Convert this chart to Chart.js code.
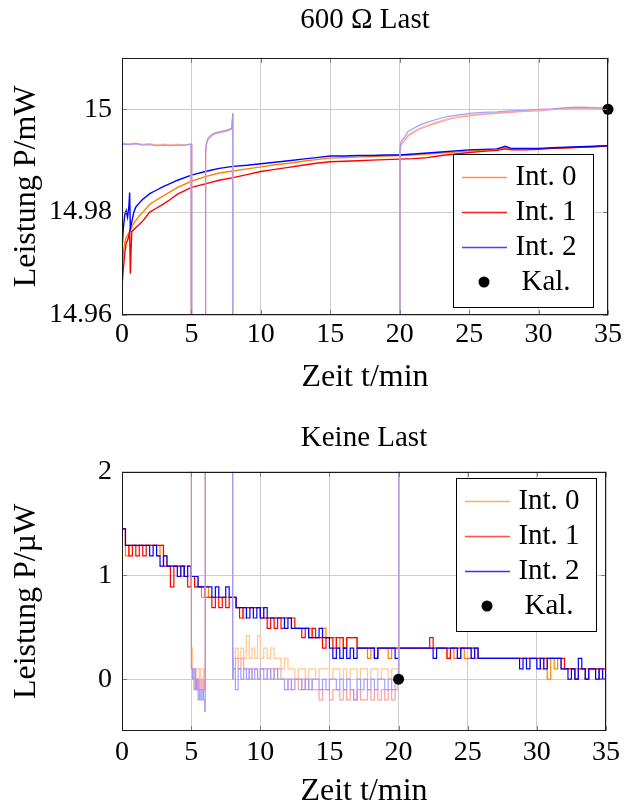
<!DOCTYPE html>
<html>
<head>
<meta charset="utf-8">
<script src="https://cdn.jsdelivr.net/npm/chart.js@4.4.0/dist/chart.umd.min.js"></script>
<style>
  html, body { margin: 0; padding: 0; background: #fff; }
  #topChart { position: absolute; left: 0; top: 0; }
  #lowChart { position: absolute; left: 0; top: 400px; }
</style>
</head>
<body>
<canvas id="topChart" width="625" height="400"></canvas>
<canvas id="lowChart" width="625" height="407"></canvas>
<script>
// tick labels
const xTicks = [0, 5, 10, 15, 20, 25, 30, 35];
const topYTicks = [14.96, 14.98, 15];
const topYLabels = ['14.96', '14.98', '15'];
const lowYTicks = [0, 1, 2];
const lowYLabels = ['0', '1', '2'];
const seriesNames = ['Int. 0', 'Int. 1', 'Int. 2'];
const calName = 'Kal.';

// 600 Ohm load, mW
const topTime = [0, 0.1, 0.2, 0.3, 0.4, 0.5, 0.55, 0.6, 0.7, 0.85,
    1, 1.25, 1.5, 2, 2.5, 3, 3.5, 4,
    5, 6, 7, 8, 9, 10, 11, 12, 13, 14, 15, 16, 17, 18, 19, 20, 21, 22, 23, 24, 25, 26, 27,
    27.6, 28, 29, 30, 31, 32, 33, 34, 35];
const top0 = [14.9690, 14.9722, 14.9740, 14.9751, 14.9755, 14.9760, 14.9762, 14.9764, 14.9770, 14.9778,
    14.9784, 14.9793, 14.9800, 14.9815, 14.9824, 14.9832, 14.9840, 14.9848,
    14.9860, 14.9869, 14.9876, 14.9880, 14.9884, 14.9888, 14.9892, 14.9895, 14.9899, 14.9902, 14.9905,
    14.9906, 14.9907, 14.9908, 14.9909, 14.9910, 14.9911, 14.9913, 14.9915, 14.9917, 14.9919, 14.9920, 14.9921,
    14.9925, 14.9922, 14.9923, 14.9923, 14.9924, 14.9925, 14.9926, 14.9927, 14.9929];
const top1 = [14.9655, 14.9690, 14.9720, 14.9740, 14.9745, 14.9755, 14.9762, 14.9680, 14.9762, 14.9766,
    14.9770, 14.9776, 14.9783, 14.9800, 14.9808, 14.9816, 14.9825, 14.9835,
    14.9848, 14.9855, 14.9862, 14.9867, 14.9873, 14.9879, 14.9883, 14.9887, 14.9891, 14.9895, 14.9898,
    14.9899, 14.9900, 14.9901, 14.9902, 14.9903, 14.9904, 14.9906, 14.9910, 14.9913, 14.9916, 14.9918, 14.9920,
    14.9923, 14.9921, 14.9921, 14.9922, 14.9924, 14.9925, 14.9926, 14.9927, 14.9929];
const top2 = [14.9725, 14.9770, 14.9795, 14.9803, 14.9790, 14.9812, 14.9838, 14.9768, 14.9780, 14.9800,
    14.9810, 14.9818, 14.9825, 14.9836, 14.9843, 14.9850, 14.9856, 14.9862,
    14.9872, 14.9879, 14.9885, 14.9889, 14.9891, 14.9894, 14.9897, 14.9900, 14.9903, 14.9906, 14.9909,
    14.9909, 14.9910, 14.9910, 14.9911, 14.9911, 14.9913, 14.9915, 14.9917, 14.9919, 14.9921, 14.9922, 14.9923,
    14.9928, 14.9924, 14.9924, 14.9924, 14.9925, 14.9926, 14.9927, 14.9928, 14.9929];

// switched channel (pale), mW
const topPaleTime = [0, 0.5, 1, 1.5, 2, 2.5, 3, 3.5, 4, 4.5, 4.98,
    5.02, 5.98,
    6.02, 6.08, 6.2, 6.4, 6.7, 7, 7.3, 7.6, 7.9, 7.98,
    8.02, 19.98,
    20.02, 20.1, 20.3, 20.6, 21, 21.5, 22, 22.5, 23, 23.5, 24,
    25, 26, 27, 28, 29, 30, 31, 32, 33, 34, 35];
const topPale0 = [14.9934, 14.9933, 14.9934, 14.9932, 14.9933, 14.9931, 14.9932, 14.9931, 14.9932, 14.9931, 14.9933,
    0.0001, 0.0001,
    14.9912, 14.9933, 14.9942, 14.9948, 14.9953, 14.9955, 14.9957, 14.9959, 14.9962, 14.9993,
    0.0001, 0.0001,
    14.9920, 14.9933, 14.9939, 14.9950, 14.9957, 14.9964, 14.9969, 14.9974, 14.9978, 14.9982, 14.9985,
    14.9989, 14.9991, 14.9993, 14.9995, 14.9997, 14.9998, 15.0000, 15.0002, 15.0003, 15.0002, 15.0001];
const topPale1 = [14.9933, 14.9932, 14.9933, 14.9931, 14.9932, 14.9930, 14.9931, 14.9930, 14.9931, 14.9930, 14.9932,
    0.0000, 0.0000,
    14.9911, 14.9932, 14.9941, 14.9947, 14.9952, 14.9954, 14.9956, 14.9958, 14.9961, 14.9991,
    0.0001, 0.0001,
    14.9918, 14.9931, 14.9937, 14.9948, 14.9955, 14.9962, 14.9967, 14.9972, 14.9976, 14.9980, 14.9983,
    14.9987, 14.9990, 14.9992, 14.9994, 14.9996, 14.9997, 14.9999, 15.0001, 15.0002, 15.0001, 15.0000];
const topPale2 = [14.9932, 14.9931, 14.9933, 14.9930, 14.9931, 14.9929, 14.9930, 14.9929, 14.9930, 14.9930, 14.9932,
    0.0001, 0.0001,
    14.9915, 14.9935, 14.9944, 14.9950, 14.9954, 14.9956, 14.9958, 14.9960, 14.9963, 14.9992,
    0.0001, 0.0001,
    14.9925, 14.9938, 14.9943, 14.9957, 14.9963, 14.9970, 14.9975, 14.9979, 14.9983, 14.9986, 14.9988,
    14.9992, 14.9994, 14.9995, 14.9997, 14.9998, 15.0000, 15.0001, 15.0003, 15.0004, 15.0003, 15.0002];
const topCalTime = [35];
const topCalValue = [15.0];

// no load, uW
const lowTime = [
    0, 0.25, 0.5, 0.75, 1, 1.25, 1.5, 1.75, 2, 2.25, 2.5, 2.75, 3, 3.25, 3.5, 3.75, 4, 4.25, 4.5, 4.75,
    5, 5.25, 5.5, 5.75, 6, 6.25, 6.5, 6.75, 7, 7.25, 7.5, 7.75, 8, 8.25, 8.5, 8.75, 9, 9.25, 9.5, 9.75,
    10, 10.25, 10.5, 10.75, 11, 11.25, 11.5, 11.75, 12, 12.25, 12.5, 12.75, 13, 13.25, 13.5, 13.75, 14, 14.25, 14.5, 14.75,
    15, 15.25, 15.5, 15.75, 16, 16.25, 16.5, 16.75, 17, 17.25, 17.5, 17.75, 18, 18.25, 18.5, 18.75, 19, 19.25, 19.5, 19.75,
    20, 20.25, 20.5, 20.75, 21, 21.25, 21.5, 21.75, 22, 22.25, 22.5, 22.75, 23, 23.25, 23.5, 23.75, 24, 24.25, 24.5, 24.75,
    25, 25.25, 25.5, 25.75, 26, 26.25, 26.5, 26.75, 27, 27.25, 27.5, 27.75, 28, 28.25, 28.5, 28.75, 29, 29.25, 29.5, 29.75,
    30, 30.25, 30.5, 30.75, 31, 31.25, 31.5, 31.75, 32, 32.25, 32.5, 32.75, 33, 33.25, 33.5, 33.75, 34, 34.25, 34.5, 34.75,
    35];
const low0 = [
    1.45, 1.19, 1.29, 1.29, 1.29, 1.29, 1.29, 1.29, 1.29, 1.29, 1.19, 1.29, 1.19, 1.09, 1.09, 1.09, 1.09, 0.99, 1.09, 1.09,
    0.99, 0.99, 0.89, 0.79, 0.89, 0.79, 0.79, 0.79, 0.79, 0.79, 0.79, 0.79, 0.79, 0.69, 0.69, 0.59, 0.69, 0.69, 0.69, 0.69,
    0.69, 0.59, 0.59, 0.59, 0.59, 0.59, 0.59, 0.59, 0.59, 0.49, 0.49, 0.49, 0.49, 0.49, 0.49, 0.4, 0.4, 0.4, 0.49, 0.4,
    0.4, 0.4, 0.3, 0.4, 0.3, 0.4, 0.4, 0.4, 0.3, 0.3, 0.3, 0.2, 0.3, 0.3, 0.3, 0.3, 0.3, 0.2, 0.3, 0.3,
    0.3, 0.3, 0.3, 0.3, 0.3, 0.3, 0.3, 0.3, 0.3, 0.3, 0.3, 0.3, 0.3, 0.3, 0.2, 0.3, 0.2, 0.2, 0.3, 0.2,
    0.2, 0.3, 0.2, 0.2, 0.2, 0.2, 0.2, 0.2, 0.2, 0.2, 0.2, 0.2, 0.2, 0.2, 0.2, 0.2, 0.2, 0.2, 0.2, 0.2,
    0.2, 0.1, 0.2, 0.0, 0.2, 0.1, 0.2, 0.1, 0.1, 0.1, 0.1, 0.1, 0.1, 0.1, 0.1, 0.1, 0.1, 0.1, 0.1, 0.1,
    0.1];
const low1 = [
    1.45, 1.29, 1.19, 1.29, 1.19, 1.29, 1.19, 1.29, 1.29, 1.29, 1.29, 1.29, 1.09, 1.09, 0.89, 1.09, 1.09, 1.09, 0.99, 0.89,
    0.99, 0.89, 0.89, 0.89, 0.79, 0.79, 0.69, 0.79, 0.69, 0.79, 0.69, 0.79, 0.79, 0.69, 0.59, 0.69, 0.69, 0.69, 0.69, 0.69,
    0.59, 0.59, 0.49, 0.59, 0.49, 0.59, 0.49, 0.59, 0.59, 0.59, 0.49, 0.49, 0.4, 0.49, 0.4, 0.49, 0.4, 0.4, 0.3, 0.4,
    0.4, 0.3, 0.4, 0.4, 0.3, 0.4, 0.4, 0.4, 0.3, 0.3, 0.3, 0.3, 0.3, 0.2, 0.3, 0.3, 0.3, 0.3, 0.3, 0.3,
    0.3, 0.3, 0.3, 0.3, 0.3, 0.3, 0.3, 0.3, 0.3, 0.4, 0.3, 0.3, 0.3, 0.3, 0.2, 0.3, 0.3, 0.3, 0.3, 0.3,
    0.3, 0.3, 0.3, 0.2, 0.2, 0.2, 0.2, 0.2, 0.2, 0.2, 0.2, 0.2, 0.2, 0.2, 0.2, 0.2, 0.2, 0.2, 0.2, 0.2,
    0.2, 0.2, 0.2, 0.2, 0.2, 0.2, 0.2, 0.2, 0.1, 0.1, 0.1, 0.0, 0.1, 0.1, 0.0, 0.1, 0.1, 0.1, 0.0, 0.1,
    0.1];
const low2 = [
    1.45, 1.29, 1.29, 1.29, 1.29, 1.29, 1.29, 1.29, 1.19, 1.29, 1.19, 1.09, 1.19, 1.09, 1.09, 1.09, 0.99, 1.09, 0.99, 1.09,
    0.99, 0.99, 0.89, 0.89, 0.89, 0.89, 0.79, 0.89, 0.79, 0.79, 0.89, 0.79, 0.79, 0.69, 0.69, 0.69, 0.59, 0.69, 0.59, 0.69,
    0.59, 0.69, 0.59, 0.59, 0.59, 0.59, 0.59, 0.49, 0.59, 0.49, 0.49, 0.49, 0.49, 0.49, 0.4, 0.4, 0.4, 0.49, 0.4, 0.4,
    0.3, 0.2, 0.3, 0.2, 0.3, 0.2, 0.3, 0.2, 0.3, 0.3, 0.3, 0.3, 0.3, 0.2, 0.3, 0.3, 0.3, 0.3, 0.3, 0.2,
    0.3, 0.3, 0.3, 0.3, 0.3, 0.3, 0.3, 0.3, 0.3, 0.3, 0.2, 0.3, 0.3, 0.3, 0.3, 0.3, 0.3, 0.2, 0.3, 0.3,
    0.3, 0.2, 0.3, 0.2, 0.2, 0.2, 0.2, 0.2, 0.2, 0.2, 0.2, 0.2, 0.2, 0.2, 0.2, 0.1, 0.2, 0.1, 0.2, 0.2,
    0.1, 0.2, 0.1, 0.2, 0.2, 0.2, 0.2, 0.1, 0.1, 0.0, 0.1, 0.0, 0.2, 0.1, 0.0, 0.1, 0.1, 0.0, 0.1, 0.0,
    0.1];

// switched channel (pale), uW
const lowPaleTime = [0, 4.98,
    5.02, 5.1, 5.2, 5.3, 5.4, 5.5, 5.6, 5.7, 5.8, 5.9, 5.98, 6.02,
    8, 8.05, 8.2, 8.4, 8.6, 8.8, 9, 9.2, 9.4, 9.6, 9.8,
    10, 10.25, 10.5, 10.75, 11, 11.25, 11.5, 11.75, 12, 12.25, 12.5, 12.75, 13, 13.25, 13.5, 13.75, 14, 14.25, 14.5, 14.75,
    15, 15.25, 15.5, 15.75, 16, 16.25, 16.5, 16.75, 17, 17.25, 17.5, 17.75, 18, 18.25, 18.5, 18.75, 19, 19.25, 19.5, 19.75,
    19.95, 20.02, 35];
const lowPale0 = [14993, 14993,
    0.3, 0.1, 0.1, 0.0, 0.1, 0.1, 0.0, 0.1, 0.1, 0.0, 0.1, 14994,
    0.3, 0.2, 0.3, 0.2, 0.3, 0.2, 0.42, 0.2, 0.3, 0.2, 0.42,
    0.2, 0.3, 0.2, 0.3, 0.2, 0.2, 0.1, 0.2, 0.1, 0.1, 0.0, 0.1, 0.1, 0.0, 0.1, 0.1, 0.0, 0.1, 0.1, 0.1,
    0.0, 0.1, 0.1, 0.0, 0.1, 0.0, 0.1, 0.1, 0.0, 0.1, 0.1, 0.0, 0.1, 0.1, 0.0, 0.1, 0.1, 0.0, 0.1, 0.1,
    0.0, 14992, 15000];
const lowPale1 = [14993, 14993,
    0.1, 0.0, -0.1, 0.0, -0.1, 0.0, -0.1, 0.0, -0.1, 0.0, -0.1, 14994,
    0.2, 0.1, 0.2, 0.1, 0.2, 0.1, 0.1, 0.0, 0.1, 0.1, 0.0,
    0.1, 0.1, 0.0, 0.1, 0.0, 0.1, 0.0, 0.0, -0.1, 0.0, 0.0, -0.1, 0.0, -0.1, 0.0, -0.1, -0.1, -0.2, -0.1, -0.1,
    -0.2, -0.1, -0.1, -0.2, -0.1, -0.2, -0.1, -0.2, -0.1, -0.2, -0.2, -0.1, -0.2, -0.1, -0.2, -0.1, -0.2, -0.1, -0.2, -0.1,
    0.0, 14992, 15000];
const lowPale2 = [14993, 14993,
    0.1, 0.0, 0.1, -0.1, 0.0, -0.2, -0.1, -0.2, -0.1, -0.2, -0.31, 14994,
    0.0, 0.1, -0.1, 0.1, 0.0, 0.1, 0.0, 0.1, 0.0, 0.1, 0.0,
    0.1, 0.0, 0.1, 0.0, 0.1, 0.0, 0.0, -0.1, 0.0, -0.1, 0.0, 0.0, -0.1, 0.0, -0.1, 0.0, 0.0, -0.1, 0.0, -0.1,
    0.0, 0.0, -0.1, 0.0, -0.1, 0.0, -0.1, -0.2, 0.0, -0.1, 0.0, -0.1, 0.0, -0.1, 0.0, 0.0, -0.1, 0.0, -0.1, 0.0,
    0.0, 14992, 15000];
const lowCalTime = [20];
const lowCalValue = [0.0];

const FONT = "'Liberation Serif', serif";
const darkColors = ['rgb(255,128,0)', 'rgb(255,0,0)', 'rgb(0,0,255)'];
const paleColors = ['rgb(255,200,150)', 'rgb(255,160,160)', 'rgba(150,150,255,0.9)'];

function pairs(xs, ys) {
    return xs.map(function(x, i) { return {x: x, y: ys[i]}; });
}

function line(label, xs, ys, color, width, stepped) {
    return {
        label: label,
        data: pairs(xs, ys),
        borderColor: color,
        backgroundColor: color,
        borderWidth: width,
        pointRadius: 0,
        tension: 0,
        fill: false,
        stepped: stepped
    };
}

function calPoint(xs, ys) {
    return {
        label: calName,
        data: pairs(xs, ys),
        showLine: false,
        pointRadius: 5.5,
        pointBackgroundColor: '#000',
        pointBorderColor: '#000',
        pointBorderWidth: 0,
        clip: false
    };
}

// frame, inner ticks and boxed legend like pgfplots
const framePlugin = {
    id: 'frame',
    afterDraw(chart, args, opts) {
        const ctx = chart.ctx;
        const a = chart.chartArea;
        const xs = chart.scales.x, ys = chart.scales.y;
        ctx.save();
        ctx.strokeStyle = '#808080';
        ctx.lineWidth = 1;
        ctx.beginPath();
        xs.ticks.forEach(function(t) {
            const px = Math.round(xs.getPixelForValue(t.value)) + 0.5;
            ctx.moveTo(px, a.bottom); ctx.lineTo(px, a.bottom - 5);
            ctx.moveTo(px, a.top); ctx.lineTo(px, a.top + 5);
        });
        ys.ticks.forEach(function(t) {
            const py = Math.round(ys.getPixelForValue(t.value)) + 0.5;
            ctx.moveTo(a.left, py); ctx.lineTo(a.left + 5, py);
            ctx.moveTo(a.right, py); ctx.lineTo(a.right - 5, py);
        });
        ctx.stroke();
        ctx.strokeStyle = '#1a1a1a';
        ctx.strokeRect(Math.round(a.left) + 0.5, Math.round(a.top) + 0.5,
            Math.round(a.right - a.left) - 1, Math.round(a.bottom - a.top) - 1);

        const box = opts.box;
        const bx = Math.round(a.right - box.right - box.width);
        const by = Math.round(box.top != null ? a.top + box.top : a.bottom - box.bottom - box.height);
        ctx.fillStyle = '#fff';
        ctx.fillRect(bx, by, box.width, box.height);
        ctx.strokeStyle = '#000';
        ctx.strokeRect(bx + 0.5, by + 0.5, box.width, box.height);
        ctx.font = '29px ' + FONT;
        ctx.textAlign = 'center';
        ctx.textBaseline = 'middle';
        opts.items.forEach(function(it, i) {
            const y = by + 23 + i * 35;
            if (it.dot) {
                ctx.fillStyle = '#000';
                ctx.beginPath();
                ctx.arc(bx + 31, y, 5.5, 0, Math.PI * 2);
                ctx.fill();
            } else {
                ctx.strokeStyle = it.color;
                ctx.lineWidth = 1.4;
                ctx.beginPath();
                ctx.moveTo(bx + 9, y + 0.5);
                ctx.lineTo(bx + 54, y + 0.5);
                ctx.stroke();
            }
            ctx.fillStyle = '#000';
            ctx.fillText(it.text, bx + 93, y);
        });
        ctx.restore();
    }
};

function makeOptions(cfg) {
    return {
        responsive: false,
        animation: false,
        devicePixelRatio: 1,
        layout: { padding: { left: 0, right: 17, top: 0, bottom: 0 } },
        plugins: {
            legend: { display: false },
            tooltip: { enabled: false },
            title: {
                display: true,
                text: cfg.title,
                fullSize: false,
                color: '#000',
                font: { family: FONT, size: 29, weight: 'normal', lineHeight: 1.2 },
                padding: cfg.titlePadding
            },
            frame: { box: cfg.box, items: cfg.items }
        },
        scales: {
            x: {
                type: 'linear',
                min: 0,
                max: 35,
                afterBuildTicks: function(s) { s.ticks = xTicks.map(function(v) { return {value: v}; }); },
                afterFit: function(s) { s.height = cfg.xHeight; },
                ticks: {
                    padding: cfg.xTickPad,
                    color: '#000',
                    maxRotation: 0,
                    autoSkip: false,
                    font: { family: FONT, size: 28 },
                    callback: function(v, i) { return String(xTicks[i]); }
                },
                grid: { color: 'rgb(205,205,205)', drawTicks: false },
                border: { display: false },
                title: {
                    display: true,
                    text: 'Zeit t/min',
                    color: '#000',
                    font: { family: FONT, size: 32, lineHeight: 1 },
                    padding: { top: 0, bottom: cfg.xTitlePad }
                }
            },
            y: {
                type: 'linear',
                min: cfg.yMin,
                max: cfg.yMax,
                afterBuildTicks: function(s) { s.ticks = cfg.yTicks.map(function(v) { return {value: v}; }); },
                afterFit: function(s) { s.width = 122; },
                ticks: {
                    padding: 10,
                    color: '#000',
                    font: { family: FONT, size: 28 },
                    callback: function(v, i) { return cfg.yLabels[i]; }
                },
                grid: { color: 'rgb(205,205,205)', drawTicks: false },
                border: { display: false },
                title: {
                    display: true,
                    text: cfg.yTitle,
                    color: '#000',
                    font: { family: FONT, size: 32, lineHeight: 1 },
                    padding: { top: 11, bottom: 0 }
                }
            }
        }
    };
}

new Chart(document.getElementById('topChart'), {
    type: 'line',
    data: {
        datasets: [
            calPoint(topCalTime, topCalValue),
            line(seriesNames[2], topPaleTime, topPale2, paleColors[2], 1.2, false),
            line(seriesNames[1], topPaleTime, topPale1, paleColors[1], 1.2, false),
            line(seriesNames[0], topPaleTime, topPale0, paleColors[0], 1.2, false),
            line(seriesNames[2], topTime, top2, darkColors[2], 1.4, false),
            line(seriesNames[1], topTime, top1, darkColors[1], 1.4, false),
            line(seriesNames[0], topTime, top0, darkColors[0], 1.4, false)
        ]
    },
    options: makeOptions({
        title: '600 Ω Last',
        titlePadding: { top: 3, bottom: 20 },
        xHeight: 85,
        xTickPad: 3,
        xTitlePad: 6,
        yMin: 14.96,
        yMax: 15.01,
        yTicks: topYTicks,
        yLabels: topYLabels,
        yTitle: 'Leistung P/mW',
        box: { right: 15, bottom: 8, width: 140, height: 153 },
        items: [
            { text: seriesNames[0], color: 'rgb(255,145,70)' },
            { text: seriesNames[1], color: 'rgb(255,30,30)' },
            { text: seriesNames[2], color: 'rgb(70,70,255)' },
            { text: calName, dot: true }
        ]
    }),
    plugins: [framePlugin]
});

new Chart(document.getElementById('lowChart'), {
    type: 'line',
    data: {
        datasets: [
            calPoint(lowCalTime, lowCalValue),
            line(seriesNames[2], lowPaleTime, lowPale2, paleColors[2], 1.2, true),
            line(seriesNames[1], lowPaleTime, lowPale1, paleColors[1], 1.2, true),
            line(seriesNames[0], lowPaleTime, lowPale0, paleColors[0], 1.2, true),
            line(seriesNames[2], lowTime, low2, darkColors[2], 1.2, true),
            line(seriesNames[1], lowTime, low1, darkColors[1], 1.2, true),
            line(seriesNames[0], lowTime, low0, darkColors[0], 1.2, true)
        ]
    },
    options: makeOptions({
        title: 'Keine Last',
        titlePadding: { top: 21, bottom: 16 },
        xHeight: 76,
        xTickPad: 5,
        xTitlePad: -1,
        yMin: -0.5,
        yMax: 2,
        yTicks: lowYTicks,
        yLabels: lowYLabels,
        yTitle: 'Leistung P/µW',
        box: { right: 10, top: 6, width: 140, height: 153 },
        items: [
            { text: seriesNames[0], color: 'rgb(255,175,90)' },
            { text: seriesNames[1], color: 'rgb(255,80,80)' },
            { text: seriesNames[2], color: 'rgb(50,50,255)' },
            { text: calName, dot: true }
        ]
    }),
    plugins: [framePlugin]
});
</script>
</body>
</html>
